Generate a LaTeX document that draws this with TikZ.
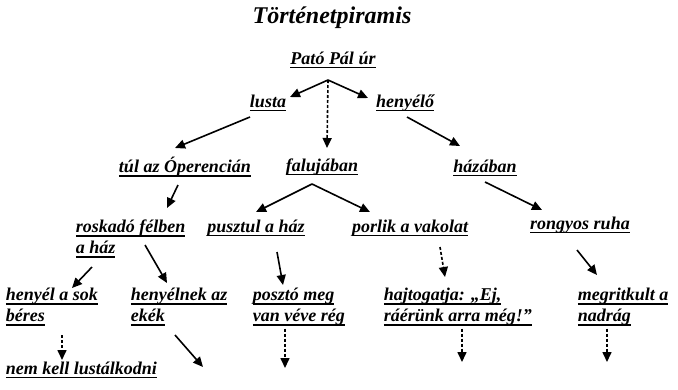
\documentclass[tikz,border=0pt]{standalone}
\usepackage{fontspec}
\setmainfont{Liberation Serif}
\usetikzlibrary{arrows.meta}
\newcommand\ulin[1]{\setbox0\hbox{#1}\rlap{\rule[-4pt]{\wd0}{1.6pt}}\box0}

\begin{document}
\begin{tikzpicture}[x=1pt, y=-1pt, >={Triangle[length=10pt,width=9pt]}, line width=1.6pt]
\tikzstyle{every node}=[font=\bfseries\itshape\fontsize{18}{21}\selectfont, inner sep=2pt, align=left]
\useasboundingbox (0,0) rectangle (678,389);
\node (cim) at (332,18) [font=\bfseries\itshape\fontsize{24}{26}\selectfont] {Történetpiramis};
% szintek
\node (pato)    at (333,60)  {\ulin{Pató Pál úr}};
\node (lusta)   at (268,103) {\ulin{lusta}};
\node (henyelo) at (405,103) {\ulin{henyélő}};
\node (tul)     at (185,167) {\ulin{túl az Óperencián}};
\node (falu)    at (322,167) {\ulin{falujában}};
\node (haz)     at (485,168) {\ulin{házában}};
\node[anchor=west] (roskado) at (73,239)  {\ulin{roskadó félben}\\\ulin{a ház}};
\node (pusztul) at (256,228) {\ulin{pusztul a ház}};
\node (porlik)  at (410,228) {\ulin{porlik a vakolat}};
\node (rongyos) at (580,225) {\ulin{rongyos ruha}};
\node[anchor=west] (beres)   at (3,307)   {\ulin{henyél a sok}\\\ulin{béres}};
\node[anchor=west] (ekek)    at (128,307) {\ulin{henyélnek az}\\\ulin{ekék}};
\node[anchor=west] (poszto)  at (250,307) {\ulin{posztó meg}\\\ulin{van véve rég}};
\node[anchor=west] (hajt)    at (381,307) {\ulin{hajtogatja: „Ej,}\\\ulin{ráérünk arra még!”}};
\node[anchor=west] (megr)    at (575,307) {\ulin{megritkult a}\\\ulin{nadrág}};
\node[anchor=west] (nemkell) at (3,370)   {\ulin{nem kell lustálkodni}};
% szabad vegek
\coordinate (ekekv)   at (203,367);
\coordinate (posztov) at (285,368);
\coordinate (hajtv)   at (462,362);
\coordinate (megrv)   at (607,362);
\path[->]
([shift={(-5,20)}]pato.center)   edge ([shift={(22,-6)}]lusta.center)
([shift={(-5,20)}]pato.center)   edge ([shift={(-37,-5)}]henyelo.center)
([shift={(-5,20)}]pato.center)   edge[densely dashed] ([shift={(5,-19)}]falu.center)
([shift={(-18,14)}]lusta.center) edge ([shift={(-10,-19)}]tul.center)
([shift={(2,14)}]henyelo.center) edge ([shift={(-25,-22)}]haz.center)
([shift={(-7,18)}]tul.center)    edge ([shift={(94,-31)}]roskado.west)
([shift={(-10,17)}]falu.center)  edge ([shift={(0,-16)}]pusztul.center)
([shift={(-10,17)}]falu.center)  edge ([shift={(-40,-16)}]porlik.center)
([shift={(0,14)}]haz.center)     edge ([shift={(-38,-15)}]rongyos.center)
([shift={(19,28)}]roskado.west)  edge ([shift={(69,-19)}]beres.west)
([shift={(72,6)}]roskado.west)   edge ([shift={(39,-24)}]ekek.west)
([shift={(21,24)}]pusztul.center) edge ([shift={(33,-22)}]poszto.west)
([shift={(30,19)}]porlik.center) edge[densely dashed] ([shift={(64,-30)}]hajt.west)
([shift={(-3,25)}]rongyos.center) edge ([shift={(22,-32)}]megr.west)
([shift={(59,28)}]beres.west)    edge[densely dashed] ([shift={(59,-10)}]nemkell.west)
([shift={(47,28)}]ekek.west)     edge (ekekv)
(posztov |- poszto.south)        edge[densely dashed] (posztov)
(hajtv |- hajt.south)            edge[densely dashed] (hajtv)
(megrv |- megr.south)            edge[densely dashed] (megrv);
\end{tikzpicture}
\end{document}
